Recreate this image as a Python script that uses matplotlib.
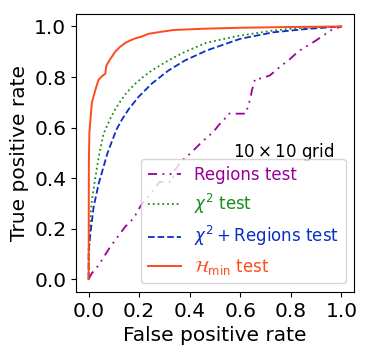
import matplotlib
matplotlib.use("Agg")
import matplotlib.pyplot as plt

# Regions test
reg_fpr = [0, 0.013, 0.04, 0.086, 0.145, 0.178, 0.204, 0.25, 0.28, 0.33, 0.34, 0.369, 0.382, 0.422,
           0.448, 0.467, 0.494, 0.514, 0.534, 0.553, 0.586, 0.622, 0.64, 0.646, 0.659, 0.685,
           0.718, 0.764, 0.791, 0.83, 0.883, 0.909, 0.962, 1.0]
reg_tpr = [0, 0.024, 0.056, 0.129, 0.208, 0.241, 0.287, 0.345, 0.385, 0.385, 0.43, 0.471, 0.478, 0.517,
           0.543, 0.56, 0.583, 0.609, 0.629, 0.655, 0.655, 0.655, 0.715, 0.747, 0.794, 0.794,
           0.807, 0.846, 0.866, 0.902, 0.934, 0.951, 0.987, 1.0]

# chi^2 test
chi_fpr = [0, 0.002, 0.007, 0.013, 0.027, 0.04, 0.059, 0.086, 0.105, 0.125, 0.15, 0.185, 0.215,
           0.25, 0.316, 0.382, 0.467, 0.599, 0.731, 0.823, 0.9, 1.0]
chi_tpr = [0, 0.1, 0.247, 0.313, 0.405, 0.484, 0.576, 0.636, 0.672, 0.703, 0.738, 0.774, 0.8,
           0.826, 0.866, 0.9, 0.936, 0.964, 0.984, 0.993, 0.997, 1.0]

# chi^2 + Regions test
cr_fpr = [0, 0.0, 0.007, 0.02, 0.04, 0.059, 0.075, 0.092, 0.11, 0.132, 0.158, 0.198, 0.25, 0.316,
          0.382, 0.467, 0.599, 0.731, 0.862, 1.0]
cr_tpr = [0, 0.116, 0.182, 0.287, 0.379, 0.445, 0.5, 0.545, 0.592, 0.632, 0.672, 0.722, 0.774,
          0.826, 0.866, 0.905, 0.951, 0.977, 0.99, 1.0]

# H_min test
h_fpr = [0, 0.001, 0.003, 0.007, 0.013, 0.02, 0.03, 0.04, 0.055, 0.066, 0.07, 0.085, 0.105,
         0.125, 0.145, 0.165, 0.185, 0.21, 0.237, 0.28, 0.336, 0.45, 0.6, 0.8, 1.0]
h_tpr = [0, 0.47, 0.58, 0.629, 0.7, 0.725, 0.76, 0.79, 0.805, 0.813, 0.845, 0.87, 0.9,
         0.92, 0.935, 0.945, 0.953, 0.96, 0.971, 0.978, 0.986, 0.991, 0.995, 0.998, 1.0]

xticks = [0.0, 0.2, 0.4, 0.6, 0.8, 1.0]

fig = plt.figure(figsize=(3.68, 3.55), dpi=100)
ax = fig.add_axes([0.2065, 0.178, 0.7555, 0.783])

ax.plot(reg_fpr, reg_tpr, color='#990099', lw=1.3, dashes=(5, 3, 1, 3, 1, 3), label='Regions test')
ax.plot(chi_fpr, chi_tpr, color='#1a8c1a', lw=1.3, linestyle=':', label=r'$\chi^2$ test')
ax.plot(cr_fpr, cr_tpr, color='#0a2fc4', lw=1.3, linestyle='--', label=r'$\chi^2 +$Regions test')
ax.plot(h_fpr, h_tpr, color='#ff4a1c', lw=1.4, linestyle='-', label=r'$\mathcal{H}_{\min}$ test')

ax.set_xticks(xticks)
ax.set_yticks(xticks)
ax.tick_params(labelsize=14.5)
ax.set_xlabel('False positive rate', fontsize=14.5)
ax.set_ylabel('True positive rate', fontsize=14.5)

ax.text(0.928, 0.485, r'$10\times10$ grid', transform=ax.transAxes, ha='right', va='baseline',
        fontsize=12)
ax.legend(loc='lower right', fontsize=12, labelcolor='linecolor')

fig.savefig('out.png', dpi=100)
